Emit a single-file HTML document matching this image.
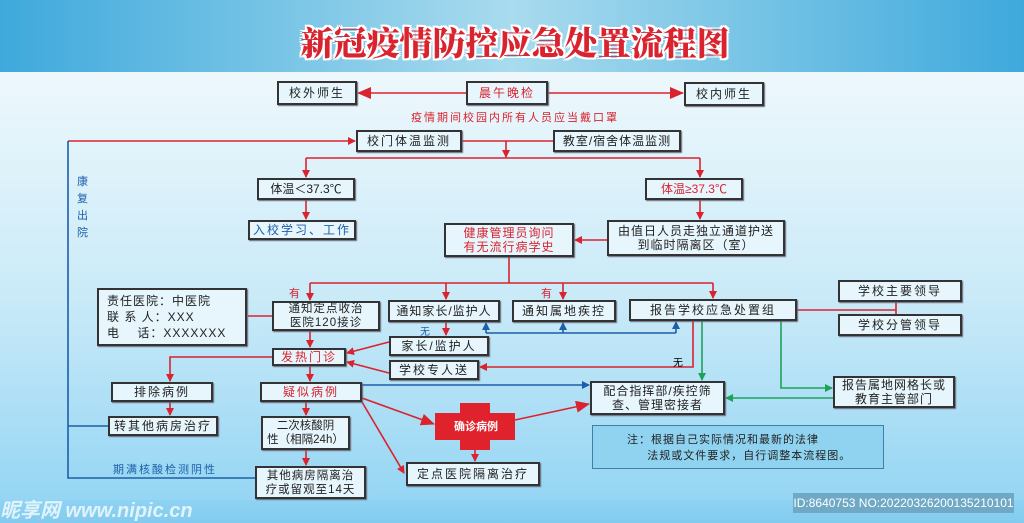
<!DOCTYPE html>
<html><head><meta charset="utf-8"><style>
*{margin:0;padding:0;box-sizing:border-box}
body{width:1024px;height:523px;overflow:hidden;position:relative;font-family:"Liberation Sans","Noto Sans CJK SC",sans-serif;background:linear-gradient(#eef8fc 72px,#c9eaf8 300px,#8fd3f3 523px)}
#top{position:absolute;left:0;top:0;width:1024px;height:72px;background:linear-gradient(90deg,#3ea9dc,#a9dbee 50%,#3ea9dc)}
#title{position:absolute;left:0;top:22px;width:1030px;text-align:center;font-family:"Noto Serif CJK SC",serif;font-weight:900;font-size:33px;line-height:40px;color:#d9232f;letter-spacing:0;text-shadow:2px 0 #fff,-2px 0 #fff,0 2px #fff,0 -2px #fff,2px 2px #fff,-2px -2px #fff,2px -2px #fff,-2px 2px #fff}
.b{position:absolute;border:2px solid #333;background:#e6f6fc;font-size:12px;color:#222;display:flex;align-items:center;justify-content:center;text-align:center;line-height:14px;letter-spacing:2px;box-shadow:1px 1px 1px #667;white-space:nowrap}
.r{color:#d9232f}.bl{color:#1c5fa8}
.t{position:absolute;font-size:11px;letter-spacing:2px}
svg{position:absolute;left:0;top:0}
</style></head><body>
<div id="top"></div>
<div id="title">新冠疫情防控应急处置流程图</div>
<div style="position:absolute;left:0;top:500px;width:1024px;height:23px;background:linear-gradient(#8fd3f3,#82cbef)"></div>
<svg width="1024" height="523">
<defs>
<marker id="ar" markerWidth="8" markerHeight="8" refX="7" refY="4" orient="auto" markerUnits="userSpaceOnUse"><path d="M0,0L8,4L0,8z" fill="#d9232f"/></marker>
<marker id="ab" markerWidth="8" markerHeight="8" refX="7" refY="4" orient="auto" markerUnits="userSpaceOnUse"><path d="M0,0L8,4L0,8z" fill="#1c5fa8"/></marker>
<marker id="ag" markerWidth="8" markerHeight="8" refX="7" refY="4" orient="auto" markerUnits="userSpaceOnUse"><path d="M0,0L8,4L0,8z" fill="#1fa15a"/></marker>
<marker id="ar2" markerWidth="14" markerHeight="12" refX="13" refY="6" orient="auto" markerUnits="userSpaceOnUse"><path d="M0,0L14,6L0,12z" fill="#d9232f"/></marker>
</defs>
<g fill="none" stroke-width="1.6">
<g stroke="#d9232f">
<path d="M466,93H358" marker-end="url(#ar2)"/><path d="M548,93H683" marker-end="url(#ar2)"/>
<path d="M68,141H355" marker-end="url(#ar)"/><path d="M462,141H553"/>
<path d="M506,141V157" marker-end="url(#ar)"/>
<path d="M306,158H700"/><path d="M306,158V177" marker-end="url(#ar)"/><path d="M700,158V177" marker-end="url(#ar)"/>
<path d="M306,200V219" marker-end="url(#ar)"/><path d="M700,200V219" marker-end="url(#ar)"/>
<path d="M607,240H575" marker-end="url(#ar)"/>
<path d="M509,257V283"/><path d="M310,283H713"/>
<path d="M310,283V300" marker-end="url(#ar)"/><path d="M446,283V299" marker-end="url(#ar)"/><path d="M563,283V299" marker-end="url(#ar)"/><path d="M713,283V298" marker-end="url(#ar)"/>
<path d="M248,316H272"/>
<path d="M310,331V347" marker-end="url(#ar)"/>
<path d="M446,322V335" marker-end="url(#ar)"/>
<path d="M389,342L347,353" marker-end="url(#ar)"/><path d="M389,373L347,362" marker-end="url(#ar)"/>
<path d="M272,357H170V381" marker-end="url(#ar)"/>
<path d="M310,366V381" marker-end="url(#ar)"/>
<path d="M170,402V415" marker-end="url(#ar)"/>
<path d="M306,402V415" marker-end="url(#ar)"/>
<path d="M306,450V465" marker-end="url(#ar)"/>
<path d="M362,398L434,424" marker-end="url(#ar2)"/>
<path d="M362,402L404,473" marker-end="url(#ar)"/>
<path d="M515,420L589,404" marker-end="url(#ar2)"/>
<path d="M475,450V461" marker-end="url(#ar)"/>
<path d="M693,321V367H480" marker-end="url(#ar)"/>
<path d="M797,310H896"/><path d="M896,302V314"/>
</g>
<g stroke="#1c5fa8">
<path d="M68,141V478H255"/><path d="M68,426H108"/>
<path d="M486,333H676"/><path d="M486,333V323" marker-end="url(#ab)"/><path d="M563,333V323" marker-end="url(#ab)"/><path d="M676,333V322" marker-end="url(#ab)"/>
<path d="M362,385H589" marker-end="url(#ab)"/>
</g>
<g stroke="#1fa15a">
<path d="M702,321V380" marker-end="url(#ag)"/>
<path d="M781,321V388H832" marker-end="url(#ag)"/>
<path d="M833,398H726" marker-end="url(#ag)"/>
</g>
</g>
<path d="M460,403h30v10h25v27h-25v10h-30v-10h-25v-27h25z" fill="#e0222c"/>
</svg>
<div class="b" style="left:277px;top:81px;width:80px;height:24px">校外师生</div>
<div class="b r" style="left:466px;top:81px;width:82px;height:24px">晨午晚检</div>
<div class="b" style="left:684px;top:82px;width:80px;height:24px">校内师生</div>
<div class="t r" style="left:405px;top:109px;width:220px;text-align:center">疫情期间校园内所有人员应当戴口罩</div>
<div class="b" style="left:356px;top:130px;width:106px;height:22px">校门体温监测</div>
<div class="b" style="left:553px;top:130px;width:128px;height:22px;letter-spacing:1px">教室/宿舍体温监测</div>
<div class="b" style="left:257px;top:178px;width:98px;height:22px;letter-spacing:0">体温＜37.3℃</div>
<div class="b r" style="left:645px;top:178px;width:98px;height:22px;letter-spacing:0">体温≥37.3℃</div>
<div class="b bl" style="left:248px;top:220px;width:108px;height:20px">入校学习、工作</div>
<div class="b" style="left:607px;top:220px;width:178px;height:36px;letter-spacing:1px">由值日人员走独立通道护送<br>到临时隔离区（室）</div>
<div class="b r" style="left:444px;top:223px;width:130px;height:34px;letter-spacing:1px">健康管理员询问<br>有无流行病学史</div>
<div class="b" style="left:97px;top:288px;width:150px;height:58px;justify-content:flex-start;text-align:left;padding-left:8px;line-height:16px;letter-spacing:1px">责任医院：中医院<br>联 系 人：XXX<br>电　 话：XXXXXXX</div>
<div class="b" style="left:272px;top:301px;width:108px;height:30px;letter-spacing:1px;font-size:11.5px">通知定点收治<br>医院120接诊</div>
<div class="b" style="left:388px;top:300px;width:112px;height:22px;letter-spacing:1px">通知家长/监护人</div>
<div class="b" style="left:512px;top:300px;width:104px;height:22px">通知属地疾控</div>
<div class="b" style="left:629px;top:299px;width:168px;height:22px">报告学校应急处置组</div>
<div class="b" style="left:838px;top:280px;width:124px;height:22px">学校主要领导</div>
<div class="b" style="left:838px;top:314px;width:124px;height:22px">学校分管领导</div>
<div class="b" style="left:389px;top:336px;width:100px;height:20px">家长/监护人</div>
<div class="b" style="left:389px;top:360px;width:90px;height:20px">学校专人送</div>
<div class="b r" style="left:272px;top:348px;width:74px;height:18px">发热门诊</div>
<div class="b" style="left:111px;top:382px;width:102px;height:20px">排除病例</div>
<div class="b r" style="left:260px;top:382px;width:102px;height:20px">疑似病例</div>
<div class="b" style="left:108px;top:416px;width:110px;height:20px">转其他病房治疗</div>
<div class="b" style="left:261px;top:416px;width:89px;height:34px;letter-spacing:0;font-size:11.5px">二次核酸阴<br>性（相隔24h）</div>
<div class="b" style="left:255px;top:466px;width:111px;height:33px;letter-spacing:1px;font-size:11.5px">其他病房隔离治<br>疗或留观至14天</div>
<div class="b" style="left:406px;top:462px;width:134px;height:24px">定点医院隔离治疗</div>
<div class="b" style="left:590px;top:381px;width:135px;height:34px;letter-spacing:1px">配合指挥部/疾控筛<br>查、管理密接者</div>
<div class="b" style="left:833px;top:376px;width:122px;height:32px;letter-spacing:1px">报告属地网格长或<br>教育主管部门</div>
<div class="b" style="left:592px;top:425px;width:292px;height:44px;background:#8fd3f0;border:1px solid #3d7fa8;box-shadow:none;display:block;text-align:left;padding:6px 0 0 34px;font-size:11px;line-height:16px;letter-spacing:1px">注：根据自己实际情况和最新的法律<br>&nbsp;&nbsp;&nbsp;&nbsp;&nbsp;法规或文件要求，自行调整本流程图。</div>
<div class="t" style="left:454px;top:418px;color:#fff;font-weight:bold;letter-spacing:0">确诊病例</div>
<div class="t bl" style="left:77px;top:174px;width:14px;line-height:17px;font-size:11px">康复出院</div>
<div class="t bl" style="left:113px;top:461px">期满核酸检测阴性</div>
<div class="t r" style="left:289px;top:285px">有</div>
<div class="t r" style="left:541px;top:285px">有</div>
<div class="t bl" style="left:420px;top:323px;font-size:10px">无</div>
<div class="t" style="left:673px;top:354px;font-size:10px">无</div>
<div style="position:absolute;left:0;top:494px;font-size:20px;font-weight:bold;color:#fff;opacity:.75;font-style:italic">昵享网 www.nipic.cn</div>
<div style="position:absolute;left:793px;top:493px;width:221px;height:20px;background:#6fa9c6;color:#fff;font-size:12px;line-height:20px;text-align:center">ID:8640753 NO:20220326200135210101</div>
</body></html>
